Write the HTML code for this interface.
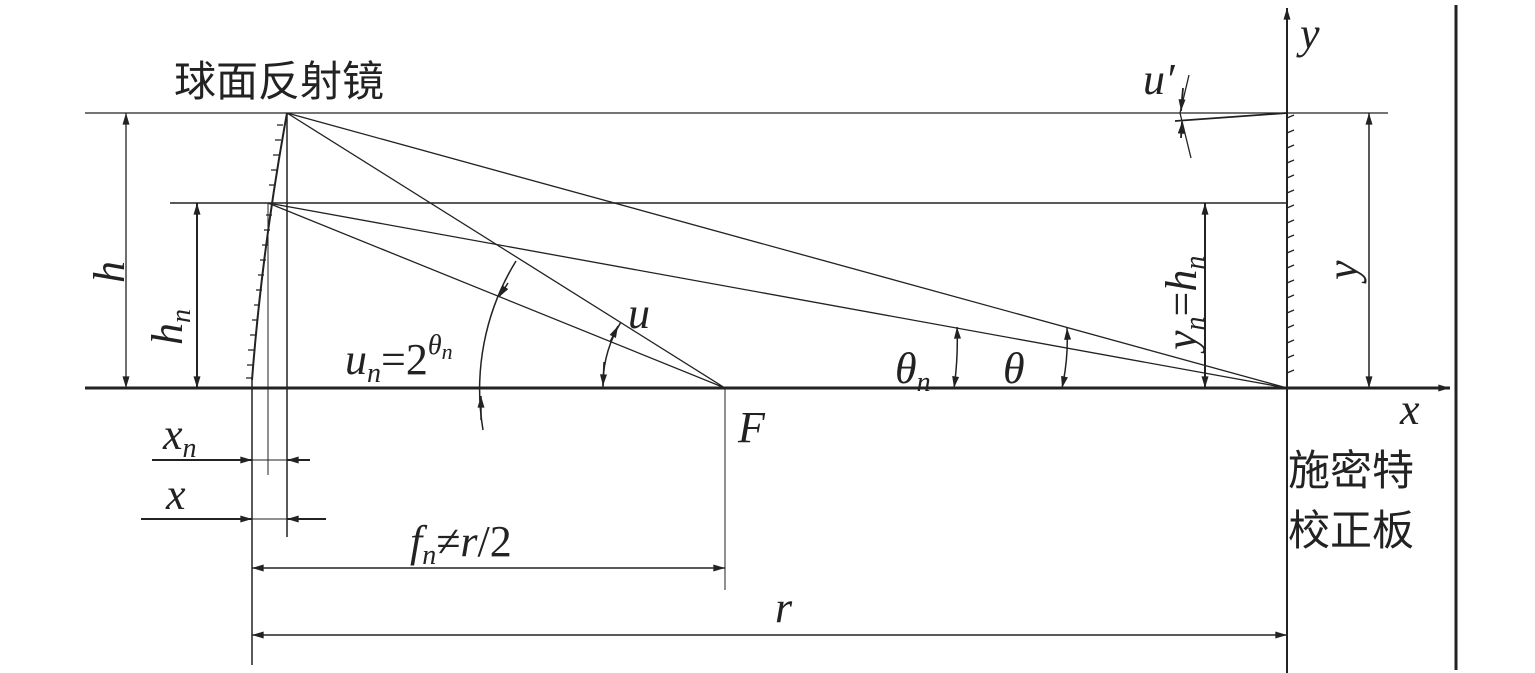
<!DOCTYPE html>
<html><head><meta charset="utf-8"><style>
html,body{margin:0;padding:0;background:#fff;}
svg{display:block}
text{font-family:"Liberation Serif","Noto Serif CJK SC",serif;font-style:italic;fill:#222}
.cn{font-family:"Liberation Sans","Noto Sans CJK SC",sans-serif;font-style:normal}
</style></head><body>
<svg width="1535" height="673" viewBox="0 0 1535 673" xmlns="http://www.w3.org/2000/svg">
<defs>
<marker id="a" viewBox="0 0 10 6" refX="10" refY="3" markerWidth="16" markerHeight="7" markerUnits="userSpaceOnUse" orient="auto-start-reverse"><path d="M0,0L10,3L0,6z" fill="#222"/></marker>
</defs>
<g stroke="#222" fill="none">
<line x1="85" y1="388" x2="1450" y2="388" stroke-width="3" marker-end="url(#a)"/>
<line x1="1287" y1="673" x2="1287" y2="8" stroke-width="2" marker-end="url(#a)"/>
<line x1="1456" y1="5" x2="1456" y2="670" stroke-width="3"/>
<line x1="85" y1="113" x2="1388" y2="113" stroke-width="1.3"/>
<line x1="170" y1="203" x2="1287" y2="203" stroke-width="1.5"/>
<path d="M287,113 Q262,250 252,380" stroke-width="2"/>
<g stroke-width="1.3">
<path d="M283,125h-6M281,140h-6M279,155h-6M277,170h-6M275,185h-6M272,215h-6M270,230h-6M268,245h-6M266,260h-6M264,275h-6M262,290h-6M260,305h-6M258,320h-6M256,335h-6M254,350h-6M253,365h-6M252,378h-6"/>
</g>
<g stroke-width="1.3">
<path d="M1287,118l7,-3M1287,133l7,-3M1287,148l7,-3M1287,163l7,-3M1287,178l7,-3M1287,193l7,-3M1287,208l7,-3M1287,223l7,-3M1287,238l7,-3M1287,253l7,-3M1287,268l7,-3M1287,283l7,-3M1287,298l7,-3M1287,313l7,-3M1287,328l7,-3M1287,343l7,-3M1287,358l7,-3M1287,373l7,-3"/>
</g>
<line x1="252" y1="380" x2="252" y2="665" stroke-width="1.5"/>
<line x1="268" y1="203" x2="268" y2="475" stroke-width="1"/>
<line x1="287" y1="113" x2="287" y2="537" stroke-width="1.5"/>
<line x1="725" y1="388" x2="725" y2="590" stroke-width="1"/>
<g stroke-width="1.3">
<line x1="287" y1="113" x2="725" y2="388"/>
<line x1="287" y1="113" x2="1287" y2="388"/>
<line x1="268" y1="203" x2="725" y2="388"/>
<line x1="268" y1="203" x2="1287" y2="388"/>
<line x1="1287" y1="113" x2="1175" y2="121" stroke-width="1.8"/>
</g>
<line x1="126" y1="113" x2="126" y2="388" stroke-width="1.3" marker-start="url(#a)" marker-end="url(#a)"/>
<line x1="197" y1="203" x2="197" y2="388" stroke-width="2" marker-start="url(#a)" marker-end="url(#a)"/>
<line x1="1205" y1="203" x2="1205" y2="388" stroke-width="2" marker-start="url(#a)" marker-end="url(#a)"/>
<line x1="1369" y1="113" x2="1369" y2="388" stroke-width="1.5" marker-start="url(#a)" marker-end="url(#a)"/>
<line x1="252" y1="568" x2="725" y2="568" stroke-width="1.5" marker-start="url(#a)" marker-end="url(#a)"/>
<line x1="252" y1="635" x2="1287" y2="635" stroke-width="1.5" marker-start="url(#a)" marker-end="url(#a)"/>
<line x1="152" y1="460" x2="252" y2="460" stroke-width="2" marker-end="url(#a)"/>
<line x1="310" y1="460" x2="287" y2="460" stroke-width="2" marker-end="url(#a)"/>
<line x1="252" y1="460" x2="287" y2="460" stroke-width="1"/>
<line x1="141" y1="519" x2="252" y2="519" stroke-width="2" marker-end="url(#a)"/>
<line x1="326" y1="519" x2="287" y2="519" stroke-width="2" marker-end="url(#a)"/>
<line x1="252" y1="519" x2="287" y2="519" stroke-width="1"/>
<path d="M516,261 A245,245 0 0 0 483,430" stroke-width="1.5"/>
<line x1="508" y1="283" x2="499" y2="297" stroke-width="1.5" marker-end="url(#a)"/>
<line x1="481" y1="420" x2="481" y2="396" stroke-width="1.5" marker-end="url(#a)"/>
<path d="M621,322 A122,122 0 0 0 603,388" stroke-width="1.5"/>
<line x1="610" y1="342" x2="618" y2="326" stroke-width="1.5" marker-end="url(#a)"/>
<line x1="604" y1="362" x2="603" y2="386" stroke-width="1.5" marker-end="url(#a)"/>
<path d="M957,327 A333,333 0 0 1 954,388" stroke-width="1.5" marker-start="url(#a)" marker-end="url(#a)"/>
<path d="M1067,328 A225,225 0 0 1 1062,388" stroke-width="1.5" marker-start="url(#a)" marker-end="url(#a)"/>
<path d="M1189,75 L1180,113 L1191,158" stroke-width="1.3"/>
<line x1="1183" y1="88" x2="1181" y2="111" stroke-width="1.8" marker-end="url(#a)"/>
<line x1="1181" y1="138" x2="1182" y2="122" stroke-width="1.8" marker-end="url(#a)"/>
</g>
<text class="cn" x="174" y="96" font-size="42">球面反射镜</text>
<text class="cn" x="1288" y="485" font-size="42">施密特</text>
<text class="cn" x="1288" y="545" font-size="42">校正板</text>
<text x="1143" y="94" font-size="44">u′</text>
<text x="1300" y="48" font-size="44">y</text>
<text x="1400" y="424" font-size="44">x</text>
<text x="738" y="442" font-size="44">F</text>
<text x="628" y="328" font-size="44">u</text>
<text x="895" y="383" font-size="44">θ<tspan font-size="28" dy="8">n</tspan></text>
<text x="1003" y="383" font-size="44">θ</text>
<text x="345" y="374" font-size="44">u<tspan font-size="28" dy="8">n</tspan><tspan dy="-8" font-style="normal">=2</tspan><tspan font-size="28" dy="-20">θ</tspan><tspan font-size="22" dy="5">n</tspan></text>
<text x="163" y="449" font-size="44">x<tspan font-size="28" dy="8">n</tspan></text>
<text x="166" y="509" font-size="44">x</text>
<text x="410" y="556" font-size="44">f<tspan font-size="28" dy="8">n</tspan><tspan dy="-8" font-style="normal">≠</tspan>r<tspan font-style="normal">/2</tspan></text>
<text x="775" y="622" font-size="44">r</text>
<text transform="translate(128,283) rotate(-90)" x="0" y="-4" font-size="44">h</text>
<text transform="translate(182,345) rotate(-90)" x="0" y="0" font-size="44">h<tspan font-size="28" dy="8">n</tspan></text>
<text transform="translate(1196,350) rotate(-90)" x="0" y="0" font-size="44">y<tspan font-size="28" dy="8">n</tspan><tspan dy="-8" font-style="normal">=</tspan>h<tspan font-size="28" dy="8">n</tspan></text>
<text transform="translate(1357,280) rotate(-90)" x="0" y="0" font-size="44">y</text>
</svg>
</body></html>
